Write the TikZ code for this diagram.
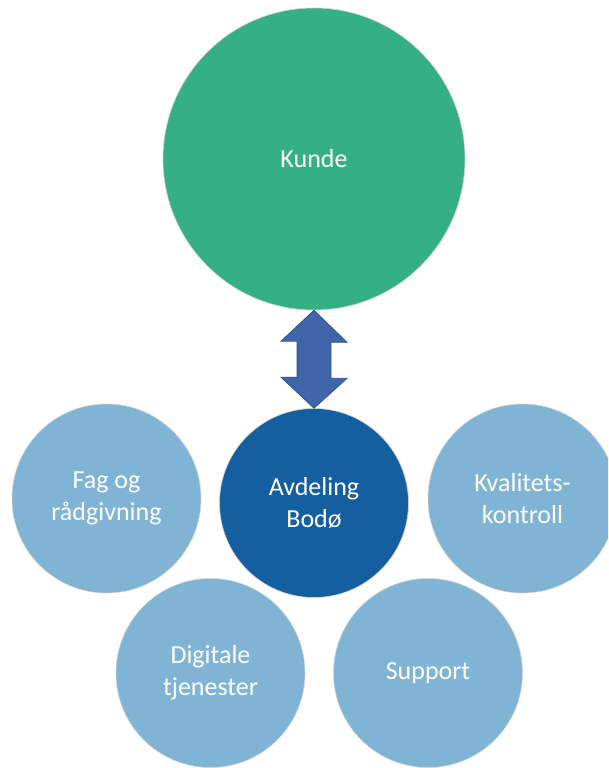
\documentclass[tikz,border=0pt]{standalone}
\usepackage{fontspec}
\setmainfont{Carlito}
\definecolor{kgreen}{HTML}{35B086}
\definecolor{lblue}{HTML}{7FB4D4}
\definecolor{dblue}{HTML}{155E9F}
\definecolor{afill}{HTML}{4065AA}
\definecolor{aedge}{HTML}{2F5192}
\begin{document}
\begin{tikzpicture}[x=1pt,y=-1pt,
  bub/.style={circle,inner sep=0pt,minimum size=189pt,draw=black!18,line width=0.6pt,
    text=white,align=center,font=\fontsize{26}{32}\selectfont},
  light/.style={bub,fill=lblue},
  dark/.style={bub,fill=dblue},
  big/.style={bub,fill=kgreen,minimum size=302pt}]
\useasboundingbox (0,0) rectangle (608,768);
\begin{scope}
\clip (0,0) rectangle (608,768);
\node[big] (kunde) at (314,159) {Kunde};
\node[light] (fag) at (106.5,498.5) {Fag og\\rådgivning};
\node[light] (kval) at (522.5,498.5) {Kvalitets-\\kontroll};
\node[light] (dig) at (210.5,673) {Digitale\\tjenester};
\node[light] (sup) at (428,673) {Support};
\node[dark] (avd) at (314,503) {Avdeling\\Bodø};
\coordinate (top) at (kunde.south);
\coordinate (bot) at (avd.north);
\draw[fill=afill,draw=aedge,line width=0.8pt,line join=miter]
  (top) -- ++(33,32) -- ++(-16,0) -- ++(0,36) -- ++(16,0)
  -- (bot) -- ++(-33,-31) -- ++(16,0) -- ++(0,-36) -- ++(-16,0) -- cycle;
\end{scope}
\end{tikzpicture}
\end{document}
